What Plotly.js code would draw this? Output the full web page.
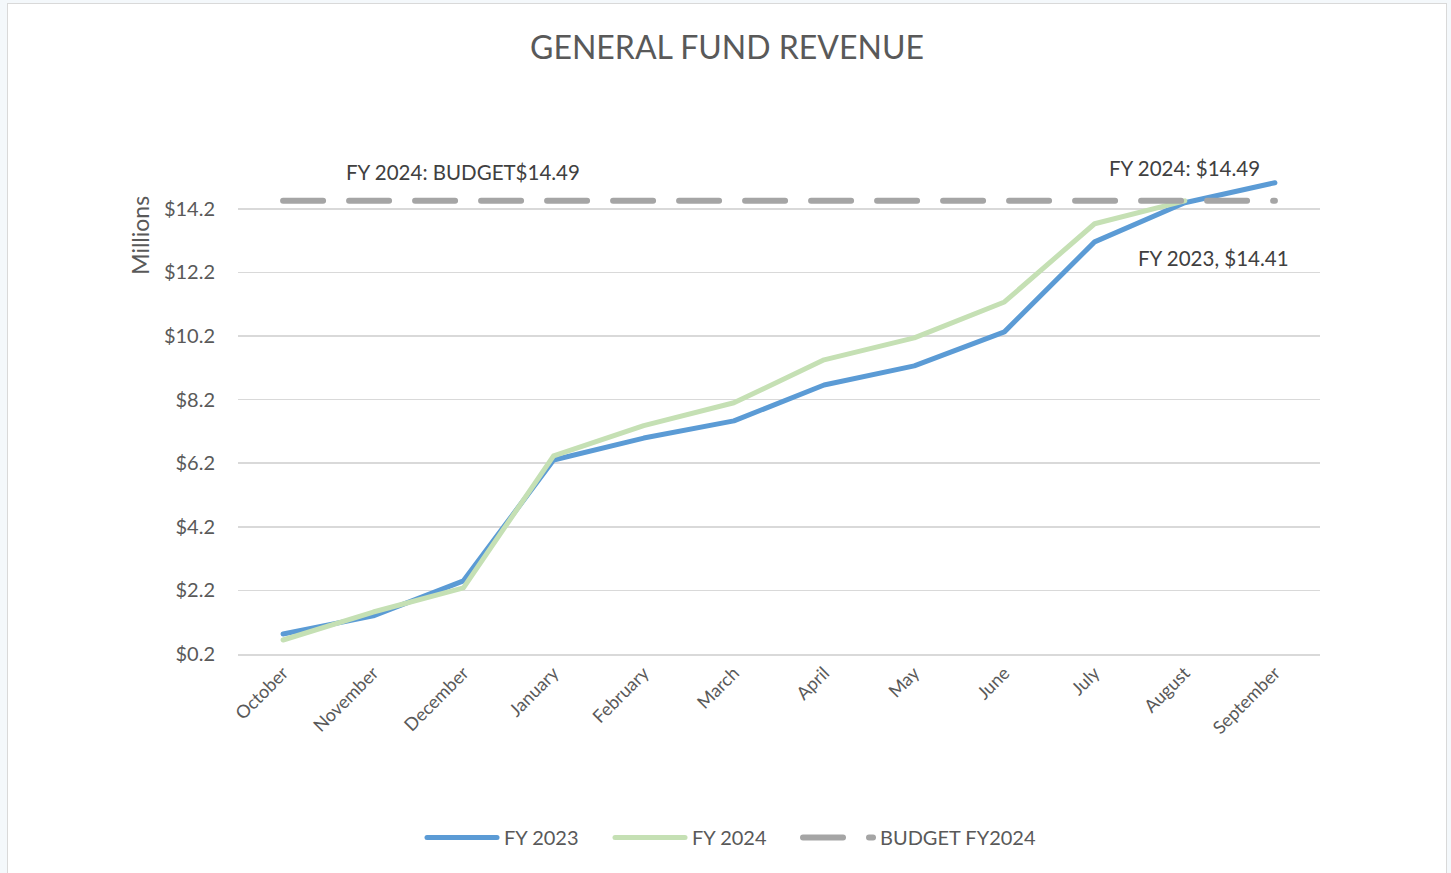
<!DOCTYPE html>
<html>
<head>
<meta charset="utf-8">
<script src="https://cdn.plot.ly/plotly-3.0.1.min.js"></script>
<style>
  html, body { margin: 0; padding: 0; background: #f4f8fb; overflow: hidden; }
  #wrap { position: absolute; left: 7px; top: 3px; width: 1438px; height: 880px; background: #fff; border: 1px solid #d9d9d9; }
  #chart { width: 1438px; height: 870px; }
  .js-line { stroke-linecap: round !important; stroke-linejoin: round !important; }
</style>
</head>
<body>
<div id="wrap"><div id="chart"></div></div>
<script>
const months = ["October","November","December","January","February","March","April","May","June","July","August","September"];
const fy2023 = [0.83, 1.40, 2.50, 6.30, 6.99, 7.53, 8.66, 9.26, 10.33, 13.16, 14.39, 15.02];
const fy2024 = [0.64, 1.52, 2.28, 6.43, 7.38, 8.10, 9.45, 10.14, 11.27, 13.73, 14.45, null];
const budget = [14.45, 14.45, 14.45, 14.45, 14.45, 14.45, 14.45, 14.45, 14.45, 14.45, 14.45, 14.45];
const yTicks = [0.2, 2.2, 4.2, 6.2, 8.2, 10.2, 12.2, 14.2];

const font = "Lato, 'Open Sans', sans-serif";
const textCol = "#595959";

const traces = [
  { x: months, y: fy2023, name: "FY 2023", mode: "lines", type: "scatter",
    line: { color: "#5B9BD5", width: 5 } },
  { x: months, y: fy2024, name: "FY 2024", mode: "lines", type: "scatter",
    line: { color: "#C5E0B4", width: 5 } },
  { x: months, y: budget, name: "BUDGET FY2024", mode: "lines", type: "scatter",
    line: { color: "#A5A5A5", width: 6, dash: "40px,26px" } }
];

const layout = {
  width: 1438, height: 870,
  margin: { l: 230, r: 126, t: 173, b: 220 },
  paper_bgcolor: "#ffffff", plot_bgcolor: "#ffffff",
  font: { family: font, color: textCol, size: 18 },
  showlegend: true,
  hovermode: false,
  title: { text: "GENERAL FUND REVENUE", font: { family: font, size: 32, color: textCol },
           x: 0.5, xanchor: "center", xref: "container", y: 0.950, yanchor: "middle", yref: "container" },
  xaxis: { type: "category", range: [-0.5, 11.5], tickangle: -45, showgrid: false,
           showline: true, linecolor: "#d9d9d9", linewidth: 1.5, ticks: "",
           tickfont: { family: font, size: 18, color: textCol }, fixedrange: true },
  yaxis: { range: [0.2, 15.2], tickvals: yTicks, ticktext: yTicks.map(v => "$" + v.toFixed(1)),
           showgrid: true, gridcolor: "#d9d9d9", gridwidth: 1.5, zeroline: false, showline: false,
           ticks: "", ticklabelstandoff: 22,
           tickfont: { family: font, size: 20, color: textCol }, fixedrange: true },
  legend: { orientation: "h", x: 0.4854, xanchor: "center", xref: "container",
            y: 0.042, yanchor: "middle", yref: "container",
            entrywidth: 103, entrywidthmode: "pixels",
            font: { family: font, size: 20, color: textCol }, itemwidth: 70, traceorder: "normal" },
  annotations: [
    { x: "December", y: budget[2], xref: "x", yref: "y", text: "FY 2024: BUDGET$14.49",
      showarrow: false, yshift: 29, font: { family: font, size: 20.5, color: "#404040" } },
    { x: "August", y: fy2024[10], xref: "x", yref: "y", text: "FY 2024: $14.49",
      showarrow: false, yshift: 33, font: { family: font, size: 20.5, color: "#404040" } },
    { x: "August", y: fy2023[10], xref: "x", yref: "y", text: "FY 2023, $14.41",
      showarrow: false, xshift: 29, yshift: -55, font: { family: font, size: 20.5, color: "#404040" } },
    { x: -0.0906, y: 14.2, xref: "paper", yref: "y", text: "Millions", textangle: -90,
      xanchor: "center", yanchor: "middle",
      showarrow: false, yshift: -26, font: { family: font, size: 23, color: textCol } }
  ]
};

Plotly.newPlot("chart", traces, layout, { displayModeBar: false, staticPlot: true }).then(function (gd) {
  // lengthen legend line samples to match the reference
  gd.querySelectorAll(".legend .legendlines path").forEach(function (p) {
    p.setAttribute("d", "M3,0h70");
  });
  // let the last legend label show in full
  gd.querySelectorAll(".legend .scrollbox").forEach(function (s) {
    s.removeAttribute("clip-path");
  });
});
</script>
</body>
</html>
